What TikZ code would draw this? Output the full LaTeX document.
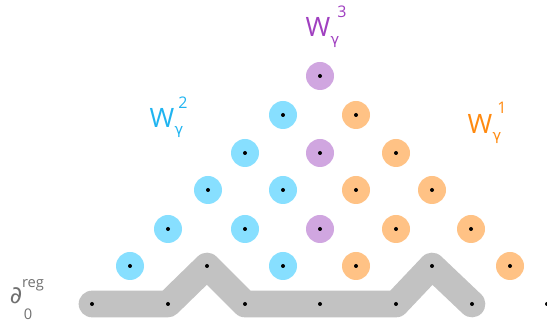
\documentclass[tikz,border=0pt]{standalone}
\usepackage{fontspec}
\setmainfont{Open Sans}
\newfontfamily\dvs{DejaVu Sans}
\definecolor{cblue}{HTML}{87DFFF}
\definecolor{corange}{HTML}{FFC285}
\definecolor{cpurple}{HTML}{D0A6E0}
\definecolor{tblue}{HTML}{20B4F0}
\definecolor{torange}{HTML}{FF8A10}
\definecolor{tpurple}{HTML}{A040C0}
\definecolor{pathgray}{HTML}{C2C2C2}
\definecolor{tgray}{HTML}{707070}
\begin{document}
\begin{tikzpicture}[x=0.75pt,y=-0.75pt,
  blob/.style={circle,inner sep=0pt,minimum size=21pt},
  bl/.style={blob,fill=cblue},
  orr/.style={blob,fill=corange},
  pu/.style={blob,fill=cpurple},
  pt/.style={circle,fill=black,inner sep=0pt,minimum size=3pt},
  lab/.style={inner sep=0pt,font=\fontsize{20}{22}\selectfont},
  sup/.style={inner sep=0pt,font=\fontsize{12}{13}\selectfont},
  gam/.style={inner sep=0pt,font=\dvs\fontsize{11}{12}\selectfont}]
\useasboundingbox (0,0) rectangle (547,327);
% gray path points
\node[pt] (g1) at (92,304) {};
\node[pt] (g2) at (168,304) {};
\node[pt] (g3) at (207,266) {};
\node[pt] (g4) at (245,304) {};
\node[pt] (g5) at (320,304) {};
\node[pt] (g6) at (396,304) {};
\node[pt] (g7) at (432,266) {};
\node[pt] (g8) at (472,304) {};
\draw[pathgray,line width=20pt,line cap=round,line join=round]
  (g1.center) -- (g2.center) -- (g3.center) -- (g4.center) -- (g5.center) -- (g6.center) -- (g7.center) -- (g8.center);
\foreach \n in {g1,g2,g3,g4,g5,g6,g7,g8}
  \node[pt] at (\n.center) {};
\node[pt] (g9) at (547,304) {};
% circles
\node[pu] (p1) at (320,76) {};
\node[bl] (b1) at (283,115) {};
\node[orr] (o1) at (356,115) {};
\node[bl] (b2) at (245,153) {};
\node[pu] (p2) at (320,153) {};
\node[orr] (o2) at (396,153) {};
\node[bl] (b3) at (208,190) {};
\node[bl] (b4) at (283,190) {};
\node[orr] (o3) at (356,190) {};
\node[orr] (o4) at (432,190) {};
\node[bl] (b5) at (168,229) {};
\node[bl] (b6) at (245,229) {};
\node[pu] (p3) at (320,229) {};
\node[orr] (o5) at (396,229) {};
\node[orr] (o6) at (471,229) {};
\node[bl] (b7) at (130,266) {};
\node[bl] (b8) at (283,266) {};
\node[orr] (o7) at (356,266) {};
\node[orr] (o8) at (510,266) {};
\foreach \n in {p1,b1,o1,b2,p2,o2,b3,b4,o3,o4,b5,b6,p3,o5,o6,b7,b8,o7,o8}
  \node[pt] at (\n.center) {};
% labels
\node[lab,text=tpurple] (w3) at (318,27) {W};
\node[sup,text=tpurple] (w3s) at (342,12) {3};
\node[gam,text=tpurple] (w3g) at (335,42) {γ};
\node[lab,text=tblue] (w2) at (162,118) {W};
\node[sup,text=tblue] (w2s) at (183,103) {2};
\node[gam,text=tblue] (w2g) at (179,132) {γ};
\node[lab,text=torange] (w1) at (480,124) {W};
\node[sup,text=torange] (w1s) at (502,108) {1};
\node[gam,text=torange] (w1g) at (497,138) {γ};
\node[lab,text=tgray,font=\dvs\fontsize{18}{20}\selectfont] (d0) at (16,296) {∂};
\node[sup,text=tgray,font=\fontsize{11}{12}\selectfont] (d0s) at (33,285) {reg};
\node[sup,text=tgray,font=\fontsize{11}{12}\selectfont] (d0g) at (28,314) {0};
\end{tikzpicture}
\end{document}
